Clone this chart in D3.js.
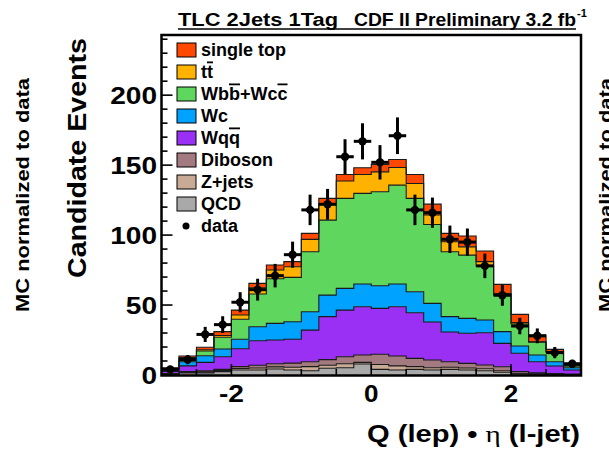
<!DOCTYPE html>
<html>
<head>
<meta charset="utf-8">
<script src="https://cdn.jsdelivr.net/npm/d3@7"></script>
<style>
  body { margin: 0; background: #fff; }
  text { font-family: "Liberation Sans", Arial, sans-serif; font-weight: bold; }
</style>
</head>
<body>
<div id="chart"></div>
<script>
// bin low edges of Q(lep)*eta(l-jet), width 0.25
const binLow = [-3, -2.75, -2.5, -2.25, -2, -1.75, -1.5, -1.25, -1, -0.75, -0.5, -0.25,
                0, 0.25, 0.5, 0.75, 1, 1.25, 1.5, 1.75, 2, 2.25, 2.5, 2.75];
const binWidth = 0.25;

// stacked MC components, bottom to top
const qcd     = [0.5, 1.5, 1.5, 2.4, 3.6, 3.6, 4.3, 3.6, 3.0, 4.8, 5.2, 7.9, 4.0, 3.6, 4.0, 3.6, 4.0, 3.6, 3.0, 2.0, 0.8, 0.5, 0.3, 0.2];
const zjets   = [0.3, 0.5, 0.7, 0.8, 1.0, 1.4, 1.5, 1.9, 3.0, 2.2, 2.8, 1.1, 3.5, 2.9, 2.0, 1.6, 1.5, 1.4, 1.5, 1.0, 0.4, 0.3, 0.2, 0.1];
const diboson = [0.2, 0.4, 0.8, 0.8, 1.4, 2.0, 2.2, 3.0, 3.5, 4.0, 5.0, 5.3, 7.3, 7.1, 5.9, 5.5, 4.0, 3.3, 2.6, 2.9, 1.3, 0.7, 0.5, 0.3];
const wqq     = [1.5, 4.1, 6.0, 9.0, 12.8, 17.5, 17.0, 17.0, 22.6, 30.7, 33.4, 34.5, 32.8, 35.2, 32.6, 27.2, 21.2, 21.5, 23.1, 16.7, 13.0, 8.0, 5.4, 3.0];
const wc      = [1.3, 3.0, 4.8, 5.6, 6.7, 10.0, 11.9, 12.6, 13.1, 15.4, 15.5, 16.2, 16.2, 16.2, 15.0, 13.3, 11.0, 10.7, 9.1, 8.4, 5.2, 4.8, 3.1, 1.6];
const wbb     = [0.5, 2.2, 3.4, 8.4, 14.3, 23.4, 31.9, 31.7, 42.9, 53.6, 64.3, 64.8, 67.2, 70.7, 66.7, 56.4, 46.4, 45.2, 38.6, 26.1, 15.7, 9.2, 6.9, 1.3];
const ttbar   = [0.2, 0.7, 0.8, 1.2, 3.1, 4.5, 6.2, 7.6, 8.8, 11.9, 12.4, 13.5, 14.2, 12.6, 10.7, 6.7, 7.1, 5.9, 3.1, 1.2, 1.0, 0.3, 0.3, 0.2];
const stop    = [0.7, 1.2, 1.8, 2.8, 3.5, 3.1, 3.6, 3.6, 4.3, 3.6, 4.7, 4.8, 5.3, 5.7, 6.4, 7.8, 6.0, 7.7, 7.6, 6.5, 5.9, 4.8, 1.6, 1.6];

// data points with errors
const dataVals = [4, 11, 29, 36, 52, 61, 71, 86, 118, 122, 156, 167, 152, 171, 118, 116, 97, 95, 78, 57, 35, 28, 16, 8];
const dataErr  = [2, 3.3, 5.4, 6, 7.2, 7.8, 8.4, 9.3, 10.9, 11, 12.5, 12.9, 12.3, 13.1, 10.9, 10.8, 9.8, 9.7, 8.8, 7.5, 5.9, 5.3, 4, 2.8];

const yTicks = [0, 50, 100, 150, 200];
const xTicks = [-2, 0, 2];

const comps = [
  { key: "qcd",     vals: qcd,     color: "#a9a9a9", label: [["QCD"]] },
  { key: "zjets",   vals: zjets,   color: "#c9ab95", label: [["Z+jets"]] },
  { key: "diboson", vals: diboson, color: "#a27a80", label: [["Diboson"]] },
  { key: "wqq",     vals: wqq,     color: "#9b30f5", label: [["Wq"], ["q", 1]] },
  { key: "wc",      vals: wc,      color: "#00a2ff", label: [["Wc"]] },
  { key: "wbb",     vals: wbb,     color: "#5fd75f", label: [["Wb"], ["b", 1], ["+Wc"], ["c", 1]] },
  { key: "ttbar",   vals: ttbar,   color: "#ffb300", label: [["t"], ["t", 1]] },
  { key: "stop",    vals: stop,    color: "#ff4800", label: [["single top"]] }
];

const W = 609, H = 451;
const svg = d3.select("#chart").append("svg")
  .attr("width", W).attr("height", H);

const x = d3.scaleLinear().domain([-3, 3]).range([161.5, 581]);
const y = d3.scaleLinear().domain([0, 243]).range([375, 35]);

// table for the stack: one row per bin edge, last one repeated to close the step
const rows = binLow.map((lo, i) => {
  const r = { lo: lo };
  comps.forEach(c => r[c.key] = c.vals[i]);
  return r;
});
rows.push(Object.assign({}, rows[rows.length - 1], { lo: 3 }));

const stacked = d3.stack().keys(comps.map(c => c.key))(rows);

const area = d3.area()
  .curve(d3.curveStepAfter)
  .x(d => x(d.data.lo))
  .y0(d => y(d[0]))
  .y1(d => y(d[1]));

const topLine = d3.line()
  .curve(d3.curveStepAfter)
  .x(d => x(d.data.lo))
  .y(d => y(d[1]));

const plot = svg.append("g");
stacked.forEach((s, k) => {
  plot.append("path").attr("d", area(s)).attr("fill", comps[k].color);
});
stacked.forEach(s => {
  plot.append("path").attr("d", topLine(s))
    .attr("fill", "none").attr("stroke", "#1a1a1a").attr("stroke-width", 1.1);
});

// data with error bars
const pts = svg.append("g");
dataVals.forEach((v, i) => {
  const xc = x(binLow[i] + binWidth / 2);
  pts.append("line")
    .attr("x1", x(binLow[i])).attr("x2", x(binLow[i] + binWidth))
    .attr("y1", y(v)).attr("y2", y(v))
    .attr("stroke", "#000").attr("stroke-width", 3);
  pts.append("line")
    .attr("x1", xc).attr("x2", xc)
    .attr("y1", y(v - dataErr[i])).attr("y2", y(Math.min(v + dataErr[i], 243)))
    .attr("stroke", "#000").attr("stroke-width", 3);
  pts.append("circle").attr("cx", xc).attr("cy", y(v)).attr("r", 4.2).attr("fill", "#000");
});

// frame
svg.append("rect")
  .attr("x", 161.5).attr("y", 35).attr("width", 419.5).attr("height", 340.5)
  .attr("fill", "none").attr("stroke", "#000").attr("stroke-width", 2.5);

// stretch a text to a given width (the picture's lettering is wide)
function fit(sel, w) {
  return sel.attr("textLength", w).attr("lengthAdjust", "spacingAndGlyphs");
}

// y axis ticks
const yAx = svg.append("g");
d3.range(0, 241, 10).forEach(v => {
  const major = v % 50 === 0;
  yAx.append("line")
    .attr("x1", 161.5).attr("x2", 161.5 + (major ? 11 : 6))
    .attr("y1", y(v)).attr("y2", y(v))
    .attr("stroke", "#000").attr("stroke-width", 1.6);
});
yTicks.forEach(v => {
  const t = yAx.append("text").attr("x", 157).attr("y", y(v)).attr("dy", "0.36em")
    .attr("text-anchor", "end").attr("font-size", 24).text(v);
  fit(t, String(v).length * 15.6);
});

// x axis ticks
const xAx = svg.append("g");
d3.range(-2.5, 2.6, 0.5).forEach(v => {
  const major = Math.abs(v % 2) < 1e-6;
  xAx.append("line")
    .attr("x1", x(v)).attr("x2", x(v))
    .attr("y1", 375).attr("y2", 375 - (major ? 11 : 6))
    .attr("stroke", "#000").attr("stroke-width", 1.6);
});
xTicks.forEach(v => {
  const lab = v < 0 ? "-" + Math.abs(v) : String(v);
  const t = xAx.append("text").attr("x", x(v)).attr("y", 402)
    .attr("text-anchor", "middle").attr("font-size", 23)
    .text(lab);
  fit(t, v < 0 ? 25 : 14.5);
});

// axis titles
const xt = svg.append("text").attr("x", 580).attr("y", 442)
  .attr("text-anchor", "end").attr("font-size", 24);
xt.append("tspan").text("Q (lep) \u2022 ");
xt.append("tspan").attr("font-family", "Liberation Serif, serif").attr("font-weight", "normal").text("\u03b7");
xt.append("tspan").text(" (l-jet)");
fit(xt, 213);

fit(svg.append("text")
  .attr("transform", "translate(86,38) rotate(-90)")
  .attr("text-anchor", "end").attr("font-size", 26)
  .text("Candidate Events"), 240);

[29, 612].forEach(cx => {
  fit(svg.append("text")
    .attr("transform", `translate(${cx},195) rotate(-90)`)
    .attr("text-anchor", "middle").attr("font-size", 18)
    .text("MC normalized to data"), 234);
});

// title, underlined
fit(svg.append("text").attr("x", 178).attr("y", 26).attr("font-size", 18)
  .text("TLC 2Jets 1Tag"), 160);
fit(svg.append("text").attr("x", 354).attr("y", 26).attr("font-size", 18)
  .text("CDF II Preliminary 3.2 fb"), 222);
svg.append("text").attr("x", 577).attr("y", 17).attr("font-size", 11).text("-1");
svg.append("line").attr("x1", 178).attr("x2", 576).attr("y1", 29).attr("y2", 29)
  .attr("stroke", "#000").attr("stroke-width", 1.4);

// legend, top entry first
const leg = svg.append("g");
comps.slice().reverse().forEach((c, i) => {
  const yc = 50 + i * 22;
  leg.append("rect").attr("x", 177).attr("y", yc - 7).attr("width", 19).attr("height", 14)
    .attr("fill", c.color).attr("stroke", "#000").attr("stroke-width", 1);
  const t = leg.append("text").attr("x", 201).attr("y", yc).attr("dy", "0.36em")
    .attr("font-size", 18);
  c.label.forEach(seg => {
    const sp = t.append("tspan").text(seg[0]);
    if (seg[1]) sp.style("text-decoration", "overline");
  });
});
leg.append("circle").attr("cx", 186).attr("cy", 226).attr("r", 3.5).attr("fill", "#000");
leg.append("text").attr("x", 201).attr("y", 226).attr("dy", "0.36em")
  .attr("font-size", 18).text("data");
</script>
</body>
</html>
